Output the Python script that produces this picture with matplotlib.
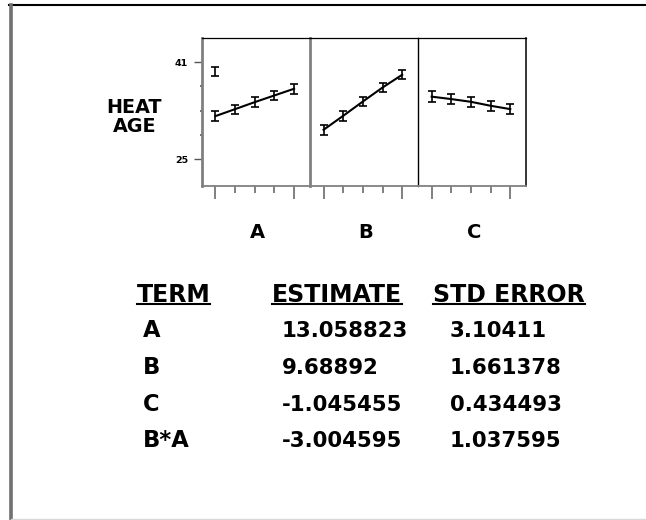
import matplotlib
matplotlib.use("Agg")
import matplotlib.pyplot as plt
from matplotlib.lines import Line2D

# data
levels = [1, 2, 3, 4, 5]
panel_names = ["A", "B", "C"]
a_means = [32.1, 33.25, 34.4, 35.5, 36.6]
a_err = [0.8, 0.75, 0.8, 0.8, 0.85]
a_extra_x = [1]
a_extra_mean = [39.5]
a_extra_err = [0.75]
b_means = [29.85, 32.15, 34.5, 36.8, 38.9]
b_err = [0.8, 0.8, 0.8, 0.8, 0.75]
c_means = [35.3, 34.9, 34.45, 33.8, 33.25]
c_err = [0.9, 0.85, 0.85, 0.85, 0.85]
y_label = "HEAT\nAGE"
y_major = [25, 41]
y_minor = [29, 33, 37]

headers = ["TERM", "ESTIMATE", "STD ERROR"]
terms = ["A", "B", "C", "B*A"]
estimates = ["13.058823", "9.68892", "-1.045455", "-3.004595"]
std_errors = ["3.10411", "1.661378", "0.434493", "1.037595"]

W, H = 646, 520
FONT = "DejaVu Sans"
GRAY = "#808080"

fig = plt.figure(figsize=(W / 100, H / 100), dpi=100)
axes = fig.subplots(1, 3, sharey=True, gridspec_kw=dict(wspace=0))
fig.subplots_adjust(left=201.7 / W, right=526 / W, bottom=1 - 186 / H, top=1 - 37.7 / H)

panels = [(a_means, a_err), (b_means, b_err), (c_means, c_err)]
for ax, name, (m, e) in zip(axes, panel_names, panels):
    ax.set_facecolor("none")
    ax.plot(levels, m, color="black", lw=1.5, zorder=3)
    ax.errorbar(levels, m, yerr=e, fmt="none", ecolor="black",
                elinewidth=1.2, capsize=3.0, capthick=1.2, zorder=4)
    ax.set_xlim(0.3, 5.8)
    ax.set_ylim(20.6, 45.0)
    ax.set_xticks([1, 5])
    ax.set_xticks([2, 3, 4], minor=True)
    ax.set_xticklabels([])
    ax.tick_params(axis="x", which="major", direction="out", length=9.4,
                   width=1.4, color=GRAY)
    ax.tick_params(axis="x", which="minor", direction="out", length=5.2,
                   width=1.4, color=GRAY)
    ax.spines["top"].set_linewidth(0.9)
    ax.spines["bottom"].set_color(GRAY)
    ax.spines["bottom"].set_linewidth(1.3)
    ax.text(0.52, 1 - (232.5 - 37.7) / (186 - 37.7), name, transform=ax.transAxes,
            ha="center", va="center", fontsize=14, fontweight="bold", family=FONT)

axes[0].errorbar(a_extra_x, a_extra_mean, yerr=a_extra_err, fmt="none",
                 ecolor="black", elinewidth=1.2, capsize=3.0, capthick=1.2)

# spines between panels
axes[0].spines["left"].set_color(GRAY)
axes[0].spines["left"].set_linewidth(2.0)
axes[0].spines["right"].set_color(GRAY)
axes[0].spines["right"].set_linewidth(2.0)
axes[1].spines["left"].set_visible(False)
axes[1].spines["right"].set_linewidth(1.0)
axes[2].spines["left"].set_visible(False)
axes[2].spines["right"].set_linewidth(1.1)

axes[0].set_yticks(y_major)
axes[0].set_yticks(y_minor, minor=True)
axes[0].set_yticklabels([str(v) for v in y_major], fontsize=6.8,
                        fontweight="bold", family=FONT)
axes[0].tick_params(axis="y", which="major", length=5.8, width=1.0,
                    color="#555555", pad=4)
axes[0].tick_params(axis="y", which="minor", length=1.6, width=1.2,
                    color="#555555")
for ax in axes[1:]:
    ax.tick_params(axis="y", which="both", left=False, labelleft=False)

fig.text(134.5 / W, 1 - 117 / H, y_label, ha="center", va="center",
         fontsize=13.8, fontweight="bold", family=FONT, linespacing=1.05)

# table
header_x = [136.7, 271.7, 433]
header_base = 301.7
col_x = [143, 281.7, 450]
row_base = [337.3, 374, 410.7, 447.3]

hdr_texts = []
for hx, h in zip(header_x, headers):
    t = fig.text(hx / W, 1 - header_base / H, h, ha="left", va="baseline",
                 fontsize=17, fontweight="bold", family=FONT)
    hdr_texts.append(t)

for i, yb in enumerate(row_base):
    fig.text(col_x[0] / W, 1 - yb / H, terms[i], ha="left", va="baseline",
             fontsize=16.3, fontweight="bold", family=FONT)
    fig.text(col_x[1] / W, 1 - yb / H, estimates[i], ha="left", va="baseline",
             fontsize=15.3, fontweight="bold", family=FONT)
    fig.text(col_x[2] / W, 1 - yb / H, std_errors[i], ha="left", va="baseline",
             fontsize=15.3, fontweight="bold", family=FONT)

# underline the headers
fig.canvas.draw()
r = fig.canvas.get_renderer()
for t in hdr_texts:
    bb = t.get_window_extent(r)
    yl = 1 - (header_base + 2.2) / H
    fig.add_artist(Line2D([bb.x0 / W, bb.x1 / W], [yl, yl], color="black",
                          lw=1.5, transform=fig.transFigure))

# outer frame
fig.add_artist(Line2D([9 / W, 1], [1 - 5 / H, 1 - 5 / H], color="black",
                      lw=1.5, transform=fig.transFigure))
fig.add_artist(Line2D([11 / W, 11 / W], [1 - 5 / H, 1 - 519 / H], color="#707070",
                      lw=2.6, transform=fig.transFigure))
fig.add_artist(Line2D([11 / W, 1], [1 - 519 / H, 1 - 519 / H], color="#d8d8d8",
                      lw=1.0, transform=fig.transFigure))

fig.savefig("out.png", dpi=100)
